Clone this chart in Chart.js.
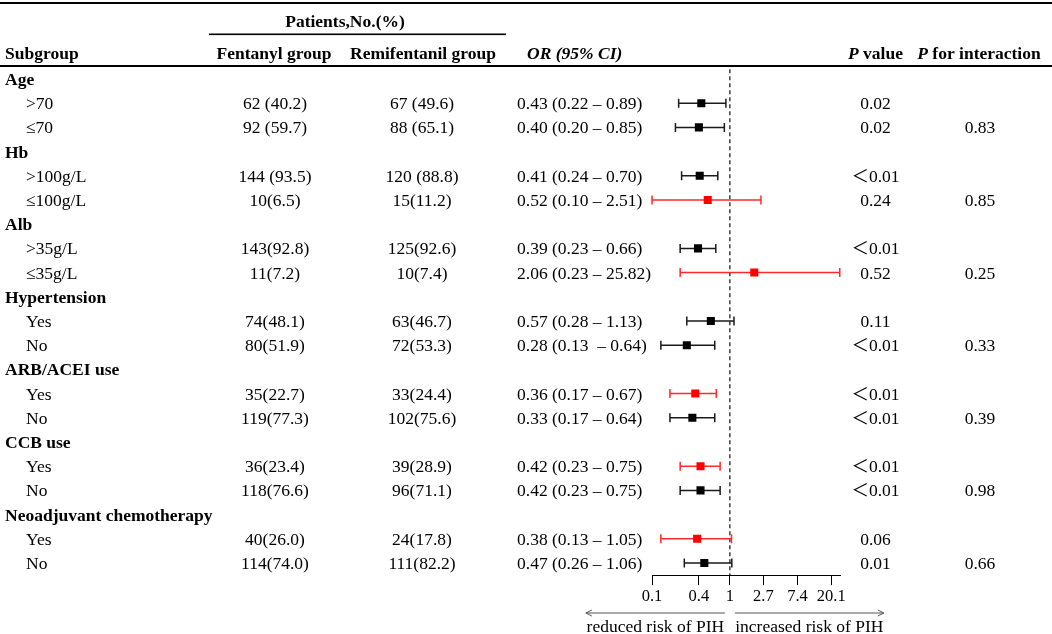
<!DOCTYPE html>
<html>
<head>
<meta charset="utf-8">
<script src="https://cdn.jsdelivr.net/npm/chart.js@4/dist/chart.umd.min.js"></script>
<style>
  html, body { margin: 0; padding: 0; background: #fff; }
  #wrap { width: 1052px; height: 634px; position: relative; }
</style>
</head>
<body>
<div id="wrap"><canvas id="c"></canvas></div>
<script>
// ---------------- data ----------------
const rowLabels = ['Age', '>70', '≤70', 'Hb', '>100g/L', '≤100g/L', 'Alb', '>35g/L', '≤35g/L',
  'Hypertension', 'Yes', 'No', 'ARB/ACEI use', 'Yes', 'No', 'CCB use', 'Yes', 'No',
  'Neoadjuvant chemotherapy', 'Yes', 'No'];
const groupHeader = [true, false, false, true, false, false, true, false, false,
  true, false, false, true, false, false, true, false, false, true, false, false];
const fentanylGroup = ['', '62 (40.2)', '92 (59.7)', '', '144 (93.5)', '10(6.5)', '', '143(92.8)', '11(7.2)',
  '', '74(48.1)', '80(51.9)', '', '35(22.7)', '119(77.3)', '', '36(23.4)', '118(76.6)', '', '40(26.0)', '114(74.0)'];
const remifentanilGroup = ['', '67 (49.6)', '88 (65.1)', '', '120 (88.8)', '15(11.2)', '', '125(92.6)', '10(7.4)',
  '', '63(46.7)', '72(53.3)', '', '33(24.4)', '102(75.6)', '', '39(28.9)', '96(71.1)', '', '24(17.8)', '111(82.2)'];
const orText = ['', '0.43 (0.22 – 0.89)', '0.40 (0.20 – 0.85)', '', '0.41 (0.24 – 0.70)', '0.52 (0.10 – 2.51)', '',
  '0.39 (0.23 – 0.66)', '2.06 (0.23 – 25.82)', '', '0.57 (0.28 – 1.13)', '0.28 (0.13  – 0.64)', '',
  '0.36 (0.17 – 0.67)', '0.33 (0.17 – 0.64)', '', '0.42 (0.23 – 0.75)', '0.42 (0.23 – 0.75)', '',
  '0.38 (0.13 – 1.05)', '0.47 (0.26 – 1.06)'];
const orValue = [null, 0.43, 0.40, null, 0.41, 0.52, null, 0.39, 2.06, null, 0.57, 0.28, null, 0.36, 0.33, null, 0.42, 0.42, null, 0.38, 0.47];
const ciLow   = [null, 0.22, 0.20, null, 0.24, 0.10, null, 0.23, 0.23, null, 0.28, 0.13, null, 0.17, 0.17, null, 0.23, 0.23, null, 0.13, 0.26];
const ciHigh  = [null, 0.89, 0.85, null, 0.70, 2.51, null, 0.66, 25.82, null, 1.13, 0.64, null, 0.67, 0.64, null, 0.75, 0.75, null, 1.05, 1.06];
const highlighted = [false, false, false, false, false, true, false, false, true, false, false, false, false, true, false, false, true, false, false, true, false];
const pValue = ['', '0.02', '0.02', '', '＜0.01', '0.24', '', '＜0.01', '0.52', '', '0.11', '＜0.01', '',
  '＜0.01', '＜0.01', '', '＜0.01', '＜0.01', '', '0.06', '0.01'];
const pInteraction = ['', '', '0.83', '', '', '0.85', '', '', '0.25', '', '', '0.33', '', '', '0.39', '', '', '0.98', '', '', '0.66'];
const tickValues = [0.1, 0.4, 1, 2.7, 7.4, 20.1];
const tickLabels = ['0.1', '0.4', '1', '2.7', '7.4', '20.1'];

// ---------------- styling ----------------
const SERIF = "'Liberation Serif', 'Times New Roman', 'Noto Sans CJK SC', serif";
const FS = 17.5;
const BLACK = '#000000';
const RED = '#ff0000';

function pts(flag) {
  const out = [];
  orValue.forEach((v, i) => { if (v !== null && highlighted[i] === flag) out.push({ x: v, y: i }); });
  return out;
}

const tablePlugin = {
  id: 'forestTable',
  beforeDatasetsDraw(chart) {
    const ctx = chart.ctx, xs = chart.scales.x, ys = chart.scales.y, ca = chart.chartArea;
    ctx.save();
    // reference line at OR = 1
    const x1 = xs.getPixelForValue(1);
    ctx.strokeStyle = '#4a4a4a';
    ctx.lineWidth = 1.6;
    ctx.setLineDash([4, 3]);
    ctx.beginPath();
    ctx.moveTo(x1, ca.top);
    ctx.lineTo(x1, ca.bottom);
    ctx.stroke();
    ctx.setLineDash([]);
    // confidence interval whiskers
    orValue.forEach((v, i) => {
      if (v === null) return;
      const y = ys.getPixelForValue(i);
      const a = xs.getPixelForValue(ciLow[i]);
      const b = xs.getPixelForValue(ciHigh[i]);
      ctx.strokeStyle = highlighted[i] ? '#ff2a2a' : '#1a1a1a';
      ctx.lineWidth = 1.5;
      ctx.beginPath();
      ctx.moveTo(a, y); ctx.lineTo(b, y);
      ctx.moveTo(a, y - 4.5); ctx.lineTo(a, y + 4.5);
      ctx.moveTo(b, y - 4.5); ctx.lineTo(b, y + 4.5);
      ctx.stroke();
    });
    ctx.restore();
  },
  afterDraw(chart) {
    const ctx = chart.ctx, xs = chart.scales.x, ys = chart.scales.y;
    const W = chart.width;
    ctx.save();
    ctx.fillStyle = '#000';
    // horizontal rules
    ctx.fillRect(0, 2, W, 2);
    ctx.fillRect(209, 33.5, 297, 1.6);
    ctx.fillRect(0, 65, W, 2);

    const bold = 'bold ' + FS + 'px ' + SERIF;
    const boldIt = 'italic bold ' + FS + 'px ' + SERIF;
    const reg = FS + 'px ' + SERIF;
    const base = 6; // offset from visual centre to alphabetic baseline

    function txt(s, x, yc, font, align) {
      ctx.font = font;
      ctx.textAlign = align || 'left';
      ctx.textBaseline = 'alphabetic';
      ctx.fillText(s, x, yc + base);
    }
    // header
    txt('Patients,No.(%)', 345, 20.5, bold, 'center');
    const hy = 52.5;
    txt('Subgroup', 5, hy, bold);
    txt('Fentanyl group', 274, hy, bold, 'center');
    txt('Remifentanil group', 423, hy, bold, 'center');
    txt('OR (95% CI)', 527, hy, boldIt);
    // "P value" and "P for interaction" with italic P
    function mixed(parts, cx, yc) {
      let total = 0;
      parts.forEach(p => { ctx.font = p[1]; total += ctx.measureText(p[0]).width; });
      let x = cx - total / 2;
      parts.forEach(p => {
        ctx.font = p[1]; ctx.textAlign = 'left'; ctx.textBaseline = 'alphabetic';
        ctx.fillText(p[0], x, yc + base);
        x += ctx.measureText(p[0]).width;
      });
    }
    mixed([['P', boldIt], [' value', bold]], 875.5, hy);
    mixed([['P', boldIt], [' for interaction', bold]], 979, hy);

    // body rows
    rowLabels.forEach((lab, i) => {
      const y = ys.getPixelForValue(i);
      if (groupHeader[i]) {
        txt(lab, 5, y, bold);
        return;
      }
      txt(lab, 26, y, reg);
      txt(fentanylGroup[i], 275, y, reg, 'center');
      txt(remifentanilGroup[i], 422, y, reg, 'center');
      txt(orText[i], 517, y, reg);
      txt(pValue[i], 875.5, y, reg, 'center');
      if (pInteraction[i]) txt(pInteraction[i], 980, y, reg, 'center');
    });

    // direction arrows
    const x1 = xs.getPixelForValue(1);
    const ay = 613;
    ctx.strokeStyle = '#555';
    ctx.lineWidth = 1;
    ctx.beginPath();
    ctx.moveTo(x1 - 5, ay); ctx.lineTo(x1 - 144, ay);
    ctx.moveTo(x1 - 138, ay - 3); ctx.lineTo(x1 - 144, ay); ctx.lineTo(x1 - 138, ay + 3);
    ctx.moveTo(x1 + 5, ay); ctx.lineTo(x1 + 154, ay);
    ctx.moveTo(x1 + 148, ay - 3); ctx.lineTo(x1 + 154, ay); ctx.lineTo(x1 + 148, ay + 3);
    ctx.stroke();
    txt('reduced risk of PIH', x1 - 74.5, 626, reg, 'center');
    txt('increased risk of PIH', x1 + 79.5, 626, reg, 'center');
    ctx.restore();
  }
};

new Chart(document.getElementById('c'), {
  type: 'scatter',
  data: {
    datasets: [
      { label: 'OR', data: pts(false), pointStyle: 'rect', pointRadius: 5.7, pointHoverRadius: 5.7,
        backgroundColor: BLACK, borderColor: BLACK, borderWidth: 0 },
      { label: 'OR (highlighted)', data: pts(true), pointStyle: 'rect', pointRadius: 5.7, pointHoverRadius: 5.7,
        backgroundColor: RED, borderColor: RED, borderWidth: 0 }
    ]
  },
  options: {
    responsive: true,
    maintainAspectRatio: false,
    animation: false,
    events: [],
    layout: { padding: { left: 652, right: 212, top: 69.3, bottom: 28.9 } },
    plugins: { legend: { display: false }, tooltip: { enabled: false } },
    scales: {
      x: {
        type: 'logarithmic',
        position: 'bottom',
        min: 0.1,
        max: 26,
        afterBuildTicks: s => { s.ticks = tickValues.map(v => ({ value: v })); },
        afterFit: s => { s.height = 30; },
        ticks: {
          autoSkip: false, maxRotation: 0, minRotation: 0, padding: 2,
          color: '#000',
          font: { family: SERIF, size: 16.5 },
          callback: (v, i) => tickLabels[i]
        },
        grid: { drawOnChartArea: false, drawTicks: true, tickLength: 10, color: '#000', lineWidth: 1 },
        border: { display: true, color: '#000', width: 1 }
      },
      y: {
        type: 'linear',
        display: false,
        reverse: true,
        min: -0.4,
        max: 20.5
      }
    }
  },
  plugins: [tablePlugin]
});
</script>
</body>
</html>
